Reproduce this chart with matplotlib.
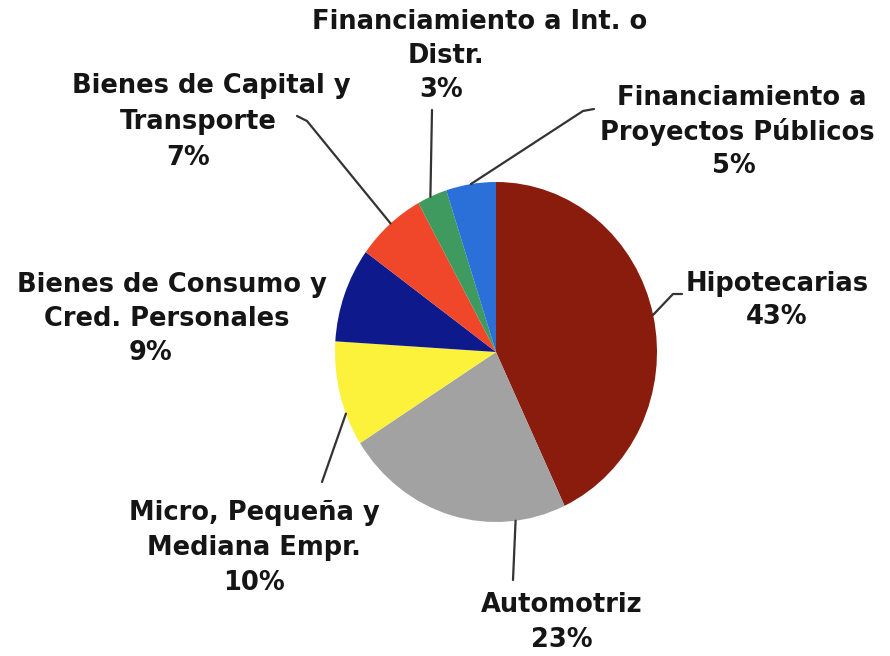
import numpy as np
import matplotlib
matplotlib.use("Agg")
import matplotlib.pyplot as plt

# data
categories = ["Hipotecarias", "Automotriz", "Micro, Pequeña y\nMediana Empr.",
              "Bienes de Consumo y\nCred. Personales", "Bienes de Capital y\nTransporte",
              "Financiamiento a Int. o\nDistr.", "Financiamiento a\nProyectos Públicos"]
shares = [43, 23, 10, 9, 7, 3, 5]
colors = ["#8a1c0e", "#a2a2a2", "#fcf23c", "#0e1a8c", "#f0472b", "#3e9a5f", "#2b6fd8"]

# layout (pixels, y from top)
W, H = 890, 656
cx, cy, rx, ry = 496, 352, 161, 170
# label: x centers per line, first line y, line step
label_pos = [
    ([777], 284, 33),
    ([562], 605, 35),
    ([254], 513, 35),
    ([172, 167, 150], 285, 34),
    ([211, 198, 188], 86, 36),
    ([480, 446, 441], 22, 34),
    ([742, 737, 734], 98, 34),
]
# leader lines: fraction along wedge for start, then the other points
leaders = [
    (0.5, [(673, 294), (682, 294)]),
    (0.22, [(513, 580)]),
    (0.31, [(322, 482)]),
    None,
    (0.52, [(307, 121), (297, 116)]),
    (0.44, [(432, 110)]),
    (0.5, [(583, 111), (594, 109)]),
]

fig = plt.figure(figsize=(W / 100, H / 100), dpi=100)
pax = fig.add_axes([(cx - rx) / W, (H - cy - ry) / H, 2 * rx / W, 2 * ry / H])
wedges, _ = pax.pie(shares, colors=colors, startangle=90, counterclock=False,
                    radius=1, wedgeprops=dict(linewidth=0))
pax.set_aspect("auto")
pax.set_xlim(-1, 1)
pax.set_ylim(-1, 1)
pax.axis("off")

ax = fig.add_axes([0, 0, 1, 1], zorder=2)
ax.set_xlim(0, W)
ax.set_ylim(H, 0)
ax.axis("off")
ax.patch.set_alpha(0)

for i, w in enumerate(wedges):
    if leaders[i] is not None:
        frac, pts = leaders[i]
        # wedge drawn clockwise: theta2 is the start
        ang = np.radians(w.theta2 - frac * (w.theta2 - w.theta1))
        x0 = cx + rx * np.cos(ang)
        y0 = cy - ry * np.sin(ang)
        xs = [x0] + [p[0] for p in pts]
        ys = [y0] + [p[1] for p in pts]
        ax.plot(xs, ys, color="#333333", lw=1.6, solid_capstyle="round")

    lines = categories[i].split("\n") + [f"{shares[i]}%"]
    xcs, y, step = label_pos[i]
    for j, line in enumerate(lines):
        x = xcs[min(j, len(xcs) - 1)]
        ax.text(x, y + j * step, line, ha="center", va="center",
                fontsize=18.5, fontweight="bold", color="#151515",
                family="DejaVu Sans")

fig.savefig("out.png", dpi=100)
